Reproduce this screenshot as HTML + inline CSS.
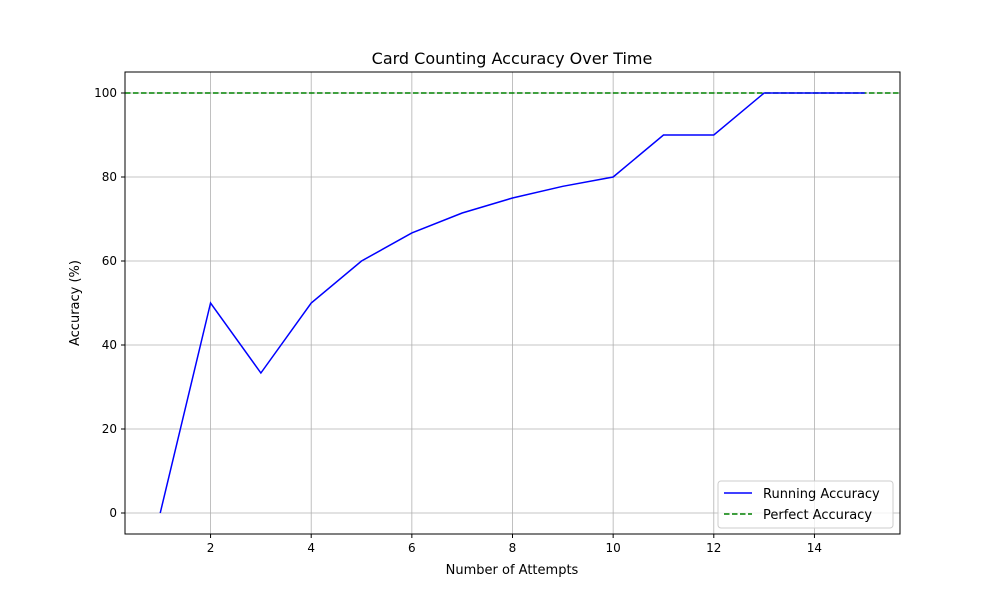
<!DOCTYPE html>
<html><head><meta charset="utf-8"><style>body{margin:0;background:#fff}svg{font-family:"DejaVu Sans","Liberation Sans",sans-serif}</style></head>
<body>
<svg id="chart" width="1000" height="600">
<rect width="1000" height="600" fill="#fff"/>
<g id="grid"></g>
<g id="ticks"></g>
<g id="series"></g>
<rect x="125" y="72" width="775" height="462" fill="none" stroke="#000" stroke-width="1"/>
<text x="512" y="64" text-anchor="middle" font-size="16">Card Counting Accuracy Over Time</text>
<text x="512" y="574" text-anchor="middle" font-size="13">Number of Attempts</text>
<text x="79" y="303" text-anchor="middle" font-size="13" transform="rotate(-90 79 303)">Accuracy (%)</text>
<g>
<rect x="718" y="481" width="175" height="47" rx="3" fill="#fff" fill-opacity="0.8" stroke="#ccc"/>
<line x1="724" y1="493" x2="752" y2="493" stroke="#0000ff" stroke-width="1.5"/>
<text x="763" y="498" font-size="13">Running Accuracy</text>
<line x1="724" y1="514" x2="752" y2="514" stroke="#008000" stroke-width="1.5" stroke-dasharray="5.5,2.5"/>
<text x="763" y="519" font-size="13">Perfect Accuracy</text>
</g>
</svg>
<script>
const attempts=[1,2,3,4,5,6,7,8,9,10,11,12,13,14,15];
const accuracy=[0,50,33.33,50,60,66.67,71.43,75,77.78,80,90,90,100,100,100];
const perfect=100;
const xTicks=[2,4,6,8,10,12,14];
const yTicks=[0,20,40,60,80,100];
const L=125,R=900,T=72,B=534,xmin=0.3,xmax=15.7,ymin=-5,ymax=105;
const X=v=>L+(v-xmin)/(xmax-xmin)*(R-L);
const Y=v=>B-(v-ymin)/(ymax-ymin)*(B-T);
const ns="http://www.w3.org/2000/svg";
function mk(t,a,p){const e=document.createElementNS(ns,t);for(const k in a)e.setAttribute(k,a[k]);p.appendChild(e);return e;}
const g=document.getElementById('grid'),tk=document.getElementById('ticks'),s=document.getElementById('series');
xTicks.forEach(v=>{const x=X(v);
const l=mk('line',{x1:x,x2:x,y1:T,y2:B,stroke:'#b0b0b0','stroke-width':0.8},g);


mk('line',{x1:x,x2:x,y1:B,y2:B+4,stroke:'#000'},tk);
const t=mk('text',{x:x,y:B+18,'text-anchor':'middle','font-size':12},tk);t.textContent=v;

});
yTicks.forEach(v=>{const y=Y(v);
const l=mk('line',{x1:L,x2:R,y1:y,y2:y,stroke:'#b0b0b0','stroke-width':0.8},g);


mk('line',{x1:L-4,x2:L,y1:y,y2:y,stroke:'#000'},tk);
const t=mk('text',{x:L-8,y:y+4,'text-anchor':'end','font-size':12},tk);t.textContent=v;

});
const pl=mk('line',{x1:L,x2:R,y1:Y(perfect),y2:Y(perfect),stroke:'#008000','stroke-width':1.5,'stroke-dasharray':'5.5,2.5'},s);


const ra=mk('polyline',{points:attempts.map((a,i)=>X(a)+','+Y(accuracy[i])).join(' '),fill:'none',stroke:'#0000ff','stroke-width':1.5},s);


</script>
</body></html>
